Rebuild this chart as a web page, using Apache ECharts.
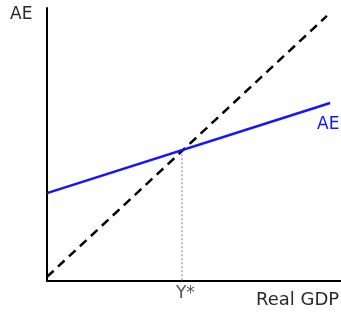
<!DOCTYPE html>
<html lang="en">
<head>
    <meta charset="utf-8">
    <title>AE</title>
    <script src="https://cdn.jsdelivr.net/npm/echarts@6/dist/echarts.min.js"></script>
    <style>
        html, body { margin: 0; padding: 0; background: #fff; }
    </style>
</head>
<body>
<div id="main" style="width:341px;height:316px"></div>
<script type="text/javascript">
    // 45-degree line and the aggregate expenditure line, in chart units (0..100)
    var diagonalLine = [[0, 1.5], [95.2, 97.1]];
    var aeLine = [[0, 32.2], [96.3, 65.2]];
    // equilibrium output
    var yStar = 45.9;
    var yStarLevel = 47.9;
    var dropLine = [[yStar, yStarLevel], [yStar, 0]];

    var font = 'DejaVu Sans';
    var blue = '#1414ff';

    var myChart = echarts.init(document.getElementById('main'));
    var option = {
        animation: false,
        grid: { left: 47, right: 0, top: 8, bottom: 35 },
        xAxis: {
            type: 'value', min: 0, max: 100,
            axisLine: { show: true, lineStyle: { color: '#000', width: 2 } },
            axisTick: { show: false }, axisLabel: { show: false }, splitLine: { show: false }
        },
        yAxis: {
            type: 'value', min: 0, max: 100,
            axisLine: { show: true, lineStyle: { color: '#000', width: 2 } },
            axisTick: { show: false }, axisLabel: { show: false }, splitLine: { show: false }
        },
        graphic: [
            { type: 'text', left: 10, top: 6, style: { text: 'AE', font: '17px "DejaVu Sans"', fill: '#2a2a2a' } },
            { type: 'text', left: 317, top: 116, style: { text: 'AE', font: '17px "DejaVu Sans"', fill: blue } },
            { type: 'text', left: 256, top: 291, style: { text: 'Real GDP', font: '18px "DejaVu Sans"', fill: '#2a2a2a' } }
        ],
        series: [
            {
                type: 'line', data: dropLine, symbol: 'none', silent: true,
                lineStyle: { color: '#aaa', width: 1.5, type: [2, 2] }
            },
            {
                type: 'line', data: diagonalLine, symbol: 'none', silent: true,
                lineStyle: { color: '#000', width: 2.5, type: [9, 6] }
            },
            {
                type: 'line', data: aeLine, symbol: 'none', silent: true,
                lineStyle: { color: blue, width: 2.5 }
            },
            {
                type: 'scatter', data: [[yStar, 0]], symbolSize: 0, silent: true,
                label: {
                    show: true, formatter: 'Y*', position: [-6, 4],
                    align: 'left', verticalAlign: 'top',
                    fontFamily: font, fontSize: 17, color: '#2a2a2a'
                }
            }
        ]
    };
    myChart.setOption(option);
</script>
</body>
</html>
